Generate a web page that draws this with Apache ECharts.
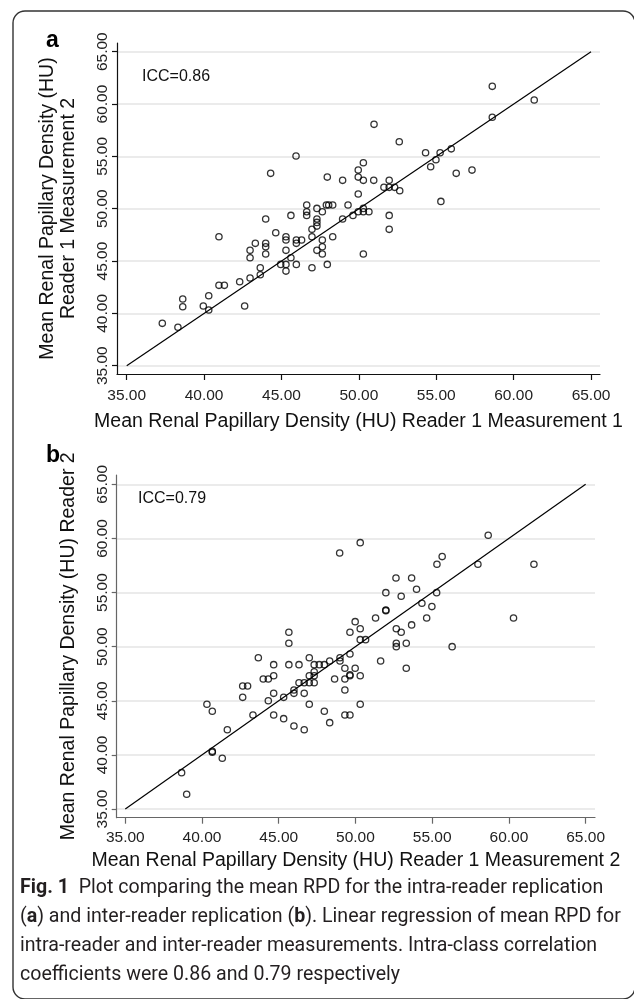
<!DOCTYPE html>
<html>
<head>
<meta charset="utf-8">
<script src="https://cdn.jsdelivr.net/npm/echarts@6/dist/echarts.min.js"></script>
<style>
html,body{margin:0;padding:0;background:#fff;}
#c{width:634px;height:999px;}
</style>
</head>
<body>
<div id="c"></div>
<script>
// ---- Data ----
const tickValues = [35, 40, 45, 50, 55, 60, 65];
const identityLine = [[35, 35], [65, 65]];

// Panel a: Reader 1 Measurement 1 (x) vs Reader 1 Measurement 2 (y)
const intraReader = [
  [37.30,39.05],[38.31,38.67],[38.62,41.37],[38.62,40.64],[39.95,40.70],[40.30,41.69],
  [40.30,40.32],[40.96,47.32],[40.96,42.68],[41.31,42.68],[42.30,43.02],[42.62,40.70],
  [42.97,46.02],[42.97,45.32],[42.97,43.38],[43.31,46.69],[43.63,44.36],[43.63,43.69],
  [43.98,49.01],[43.98,46.69],[43.98,46.37],[43.98,45.67],[44.30,53.38],[44.63,47.70],
  [44.95,44.68],[45.29,47.32],[45.29,47.01],[45.29,46.02],[45.29,44.68],[45.29,44.04],
  [45.61,49.36],[45.61,45.32],[45.94,55.03],[45.96,47.01],[45.96,46.69],[45.96,44.68],
  [46.30,47.01],[46.63,50.35],[46.63,49.71],[46.63,49.36],[46.97,48.03],[46.97,47.32],
  [46.97,44.36],[47.29,50.03],[47.29,49.01],[47.29,48.69],[47.29,48.34],[47.29,46.02],
  [47.64,49.71],[47.64,47.01],[47.64,46.37],[47.64,45.67],[47.96,53.02],[47.90,50.35],
  [48.05,50.35],[47.96,44.68],[48.31,50.35],[48.31,47.32],[48.95,52.71],[48.95,49.01],
  [49.30,50.35],[49.62,49.36],[49.96,53.69],[49.96,53.02],[49.96,51.40],[49.96,49.71],
  [50.29,54.39],[50.29,52.71],[50.29,50.03],[50.29,49.71],[50.29,45.67],[50.65,49.71],
  [50.96,52.71],[50.98,58.06],[51.62,52.04],[51.96,52.71],[51.96,52.04],[51.96,49.36],
  [51.96,48.03],[52.31,52.04],[52.61,56.39],[52.64,51.71],[54.31,55.34],[54.64,54.01],
  [54.98,54.68],[55.25,55.34],[55.30,50.70],[55.97,55.72],[56.29,53.38],[57.31,53.69],
  [58.62,61.69],[58.62,58.73],[61.33,60.38]
];

// Panel b: Reader 1 Measurement 2 (x) vs Reader 2 (y)
const interReader = [
  [38.67,38.36],[39.00,36.36],[40.32,44.68],[40.67,44.03],[40.67,40.33],[40.67,40.25],
  [41.32,39.69],[41.65,42.33],[42.65,46.37],[42.97,46.37],[42.65,45.32],[43.32,43.69],
  [43.67,48.98],[43.99,47.01],[44.32,47.01],[44.32,45.01],[44.67,48.34],[44.67,47.32],
  [44.67,45.69],[44.67,43.69],[45.32,45.32],[45.32,43.35],[45.66,51.33],[45.66,50.31],
  [45.66,48.34],[45.99,46.00],[45.99,45.69],[45.99,42.67],[46.32,48.34],[46.32,46.67],
  [46.66,46.67],[46.66,45.69],[46.66,42.33],[46.99,48.98],[46.99,47.32],[46.99,46.67],
  [46.99,44.68],[47.31,48.34],[47.31,47.69],[47.31,47.32],[47.31,46.67],[47.64,48.34],
  [47.97,48.34],[47.97,44.03],[48.32,48.68],[48.32,42.98],[48.64,47.01],[48.97,58.66],
  [48.99,48.98],[48.99,48.68],[49.31,48.00],[49.31,47.01],[49.31,46.00],[49.31,43.69],
  [49.64,51.33],[49.64,49.33],[49.64,47.32],[49.64,47.40],[49.64,43.69],[49.98,52.31],
  [49.98,48.00],[50.31,59.61],[50.31,51.66],[50.31,50.65],[50.31,47.32],[50.31,44.68],
  [50.66,50.65],[51.31,52.65],[51.64,48.68],[51.98,54.99],[51.98,53.33],[51.98,53.38],
  [52.64,56.35],[52.66,51.66],[52.66,50.31],[52.66,50.00],[52.98,54.66],[52.98,51.33],
  [53.31,50.31],[53.31,48.00],[53.66,56.35],[53.66,52.01],[53.98,55.31],[54.33,54.01],
  [54.64,52.65],[54.98,53.70],[55.29,54.99],[55.31,57.62],[55.65,58.32],[56.30,50.00],
  [57.98,57.62],[58.65,60.30],[60.30,52.65],[61.63,57.62]
];

const titles = {
  aX: 'Mean Renal Papillary Density (HU) Reader 1 Measurement 1',
  aY: 'Mean Renal Papillary Density (HU)\nReader 1 Measurement 2',
  bX: 'Mean Renal Papillary Density (HU) Reader 1 Measurement 2',
  bY: 'Mean Renal Papillary Density (HU) Reader 2',
  iccA: 'ICC=0.86',
  iccB: 'ICC=0.79'
};
const captionLines = [
  '{b|Fig. 1}  Plot comparing the mean RPD for the intra-reader replication',
  '({b|a}) and inter-reader replication ({b|b}). Linear regression of mean RPD for',
  'intra-reader and inter-reader measurements. Intra-class correlation',
  'coefficients were 0.86 and 0.79 respectively'
];

// ---- Chart ----
const FONT = "'Liberation Sans', Arial, sans-serif";
const chart = echarts.init(document.getElementById('c'), null, {renderer: 'canvas'});

function xAx(gridIndex, min, max, name, axisColor, labelMargin, nameGap) {
  return {
    type: 'value', gridIndex, min, max,
    name, nameLocation: 'middle', nameGap,
    nameTextStyle: {fontFamily: FONT, fontSize: 19.5, color: '#111'},
    axisLine: {show: true, onZero: false, lineStyle: {color: axisColor, width: 1.2}},
    axisTick: {show: true, length: 6, customValues: tickValues, lineStyle: {color: axisColor, width: 1.2}},
    axisLabel: {customValues: tickValues, margin: labelMargin, fontFamily: FONT, fontSize: 15.5, color: '#222',
      formatter: v => v.toFixed(2)},
    splitLine: {show: false}
  };
}
function yAx(gridIndex, min, max, name, axisColor, nameGap) {
  return {
    type: 'value', gridIndex, min, max,
    name, nameLocation: 'middle', nameGap,
    nameTextStyle: {fontFamily: FONT, fontSize: 19.5, color: '#111', lineHeight: 21},
    axisLine: {show: true, onZero: false, lineStyle: {color: axisColor, width: 1.2}},
    axisTick: {show: true, length: 5, customValues: tickValues, lineStyle: {color: axisColor, width: 1.2}},
    axisLabel: {customValues: tickValues, rotate: 90, margin: 6, fontFamily: FONT, fontSize: 15.5, color: '#222',
      formatter: v => v.toFixed(2)},
    splitLine: {show: true, lineStyle: {color: '#e4e4e4', width: 1.6}}
  };
}

const option = {
  backgroundColor: '#fff',
  animation: false,
  grid: [
    {left: 117, top: 43, width: 483, height: 331},
    {left: 116.7, top: 475, width: 478.3, height: 342.7}
  ],
  xAxis: [
    xAx(0, 34.373, 65.58, titles.aX, '#111', 14, 38),
    xAx(1, 34.44, 65.61, titles.bX, '#666', 12, 33)
  ],
  yAxis: [
    yAx(0, 34.21, 65.83, titles.aY, '#111', 38),
    yAx(1, 34.20, 65.86, titles.bY, '#666', 38)
  ],
  series: [
    {type: 'line', xAxisIndex: 0, yAxisIndex: 0, data: identityLine, symbol: 'none',
      lineStyle: {color: '#000', width: 1.2}, silent: true, z: 1},
    {type: 'scatter', xAxisIndex: 0, yAxisIndex: 0, data: intraReader, symbol: 'circle', symbolSize: 6.3,
      itemStyle: {color: 'rgba(255,255,255,0)', borderColor: '#000', borderWidth: 1.3}, z: 2},
    {type: 'line', xAxisIndex: 1, yAxisIndex: 1, data: identityLine, symbol: 'none',
      lineStyle: {color: '#000', width: 1.2}, silent: true, z: 1},
    {type: 'scatter', xAxisIndex: 1, yAxisIndex: 1, data: interReader, symbol: 'circle', symbolSize: 6.3,
      itemStyle: {color: 'rgba(255,255,255,0)', borderColor: '#000', borderWidth: 1.3}, z: 2}
  ],
  graphic: [
    {type: 'rect', shape: {x: 13, y: 11, width: 622, height: 988, r: 12},
      style: {fill: 'none', stroke: '#333', lineWidth: 1.4}, silent: true},
    {type: 'text', x: 46, y: 52, style: {text: 'a', font: "bold 23px " + FONT, fill: '#000', textVerticalAlign: 'bottom'}},
    {type: 'text', x: 46, y: 467, style: {text: 'b', font: "bold 23px " + FONT, fill: '#000', textVerticalAlign: 'bottom'}},
    {type: 'text', x: 142, y: 77, style: {text: titles.iccA, font: "16px " + FONT, fill: '#111', textVerticalAlign: 'middle'}},
    {type: 'text', x: 138, y: 499, style: {text: titles.iccB, font: "16px " + FONT, fill: '#111', textVerticalAlign: 'middle'}}
  ].concat(captionLines.map((t, i) => ({
    type: 'text', x: 20, y: 888 + i * 29,
    style: {
      text: t, fontFamily: 'Roboto', fontSize: 19.6, fill: '#231f20', verticalAlign: 'middle',
      rich: {b: {fontFamily: 'Roboto', fontSize: 19.6, fontWeight: 'bold', fill: '#231f20'}}
    }
  })))
};
chart.setOption(option);
</script>
</body>
</html>
